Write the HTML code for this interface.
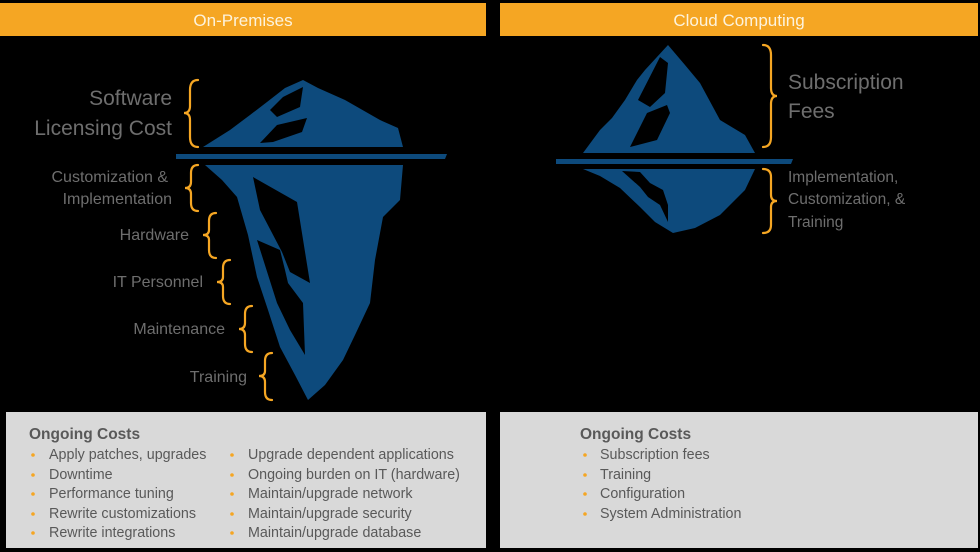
<!DOCTYPE html>
<html><head><meta charset="utf-8"><style>
html,body{margin:0;padding:0;background:#000;}
svg{display:block;}
text{font-family:"Liberation Sans",sans-serif;}
</style></head><body>
<svg width="980" height="552" viewBox="0 0 980 552" xmlns="http://www.w3.org/2000/svg">
<rect width="980" height="552" fill="#000"/>
<rect x="0" y="3" width="486" height="33" fill="#f5a623"/>
<rect x="500" y="3" width="478" height="33" fill="#f5a623"/>
<text x="243" y="26" font-size="17" fill="#fdf3dc" text-anchor="middle">On-Premises</text>
<text x="739" y="26" font-size="17" fill="#fdf3dc" text-anchor="middle">Cloud Computing</text>

<g fill="#0d4a7c">
<path d="M203 147 L230 130 L250 115 L267 102 L285 88 L303 80 L318 88 L345 100 L380 120 L398 128 L403 147 Z"/>
<path d="M176 154 L447 154 L445 159 L176 159 Z"/>
<path d="M205 165 L403 165 L400 200 L383 217 L375 260 L370 303 L355 335 L343 360 L325 385 L308 400 L295 375 L280 347 L268 310 L257 277 L248 235 L237 197 L222 180 Z"/>
</g>
<g fill="#000">
<path d="M270 110 L283 97 L303 87 L300 107 L277 117 Z"/>
<path d="M260 143 L277 125 L307 118 L302 132 L273 142 Z"/>
<path d="M253 177 L297 202 L310 283 L290 272 L282 252 L260 210 Z"/>
<path d="M257 240 L280 250 L285 270 L288 283 L303 303 L305 355 L290 330 L277 303 Z"/>
</g>

<g fill="#0d4a7c">
<path d="M583 153 L600 130 L612 118 L625 100 L637 80 L645 70 L668 45 L685 65 L700 83 L720 120 L745 135 L755 153 Z"/>
<path d="M556 159 L793 159 L791 164 L556 164 Z"/>
<path d="M583 169 L755 169 L745 190 L720 215 L695 228 L673 233 L655 222 L640 207 L620 188 L600 176 Z"/>
</g>
<g fill="#000">
<path d="M638 100 L660 57 L668 63 L665 93 L650 107 Z"/>
<path d="M630 147 L647 113 L667 105 L670 113 L657 140 Z"/>
<path d="M622 171 L640 172 L650 183 L663 190 L668 205 L668 222 L660 205 L648 197 L640 187 Z"/>
</g>

<g fill="none" stroke="#f5a623" stroke-width="2.2" stroke-linecap="round">
<path d="M198 80 Q190 80 190 90 L190 106 Q190 113 184 113 Q190 113 190 120 L190 137 Q190 147 198 147"/>
<path d="M198 165 Q191 165 191 173 L191 182 Q191 188 185 188 Q191 188 191 194 L191 203 Q191 211 198 211"/>
<path d="M216 213 Q209 213 209 221 L209 230 Q209 235 203 235 Q209 235 209 240 L209 250 Q209 258 216 258"/>
<path d="M230 260 Q223 260 223 268 L223 277 Q223 282 217 282 Q223 282 223 287 L223 296 Q223 304 230 304"/>
<path d="M252 306 Q245 306 245 314 L245 323 Q245 329 239 329 Q245 329 245 335 L245 344 Q245 352 252 352"/>
<path d="M272 353 Q265 353 265 361 L265 371 Q265 376 259 376 Q265 376 265 382 L265 392 Q265 400 272 400"/>
<path d="M763 45 Q771 45 771 55 L771 88 Q771 96 777 96 Q771 96 771 104 L771 137 Q771 147 763 147"/>
<path d="M763 169 Q771 169 771 177 L771 195 Q771 201 777 201 Q771 201 771 207 L771 225 Q771 233 763 233"/>
</g>

<g fill="#6e6e6e" text-anchor="end">
<text x="172" y="105" font-size="21">Software</text>
<text x="172" y="135" font-size="21">Licensing Cost</text>
<text x="168" y="182" font-size="16">Customization &amp;</text>
<text x="172" y="204" font-size="16">Implementation</text>
<text x="189" y="240" font-size="16">Hardware</text>
<text x="203" y="287" font-size="16">IT Personnel</text>
<text x="225" y="334" font-size="16">Maintenance</text>
<text x="247" y="382" font-size="16">Training</text>
</g>
<g fill="#6e6e6e">
<text x="788" y="89" font-size="21">Subscription</text>
<text x="788" y="118" font-size="21">Fees</text>
<text x="788" y="182" font-size="15.5">Implementation,</text>
<text x="788" y="204" font-size="15.5">Customization, &amp;</text>
<text x="788" y="227" font-size="15.5">Training</text>
</g>

<rect x="6" y="412" width="480" height="136" fill="#d9d9d9"/>
<rect x="500" y="412" width="478" height="136" fill="#d9d9d9"/>
<g fill="#595959">
<text x="29" y="439" font-size="15.5" font-weight="bold">Ongoing Costs</text>
<g font-size="14.3">
<text x="49" y="459">Apply patches, upgrades</text>
<text x="49" y="479">Downtime</text>
<text x="49" y="498">Performance tuning</text>
<text x="49" y="518">Rewrite customizations</text>
<text x="49" y="537">Rewrite integrations</text>
<text x="248" y="459">Upgrade dependent applications</text>
<text x="248" y="479">Ongoing burden on IT (hardware)</text>
<text x="248" y="498">Maintain/upgrade network</text>
<text x="248" y="518">Maintain/upgrade security</text>
<text x="248" y="537">Maintain/upgrade database</text>
</g>
<text x="580" y="439" font-size="15.5" font-weight="bold">Ongoing Costs</text>
<g font-size="14.3">
<text x="600" y="459">Subscription fees</text>
<text x="600" y="479">Training</text>
<text x="600" y="498">Configuration</text>
<text x="600" y="518">System Administration</text>
</g>
</g>
<g fill="#f5a623">
<circle cx="33" cy="455" r="1.8"/><circle cx="33" cy="475" r="1.8"/><circle cx="33" cy="494" r="1.8"/><circle cx="33" cy="514" r="1.8"/><circle cx="33" cy="533" r="1.8"/>
<circle cx="232" cy="455" r="1.8"/><circle cx="232" cy="475" r="1.8"/><circle cx="232" cy="494" r="1.8"/><circle cx="232" cy="514" r="1.8"/><circle cx="232" cy="533" r="1.8"/>
<circle cx="585" cy="455" r="1.8"/><circle cx="585" cy="475" r="1.8"/><circle cx="585" cy="494" r="1.8"/><circle cx="585" cy="514" r="1.8"/>
</g>
</svg>
</body></html>
